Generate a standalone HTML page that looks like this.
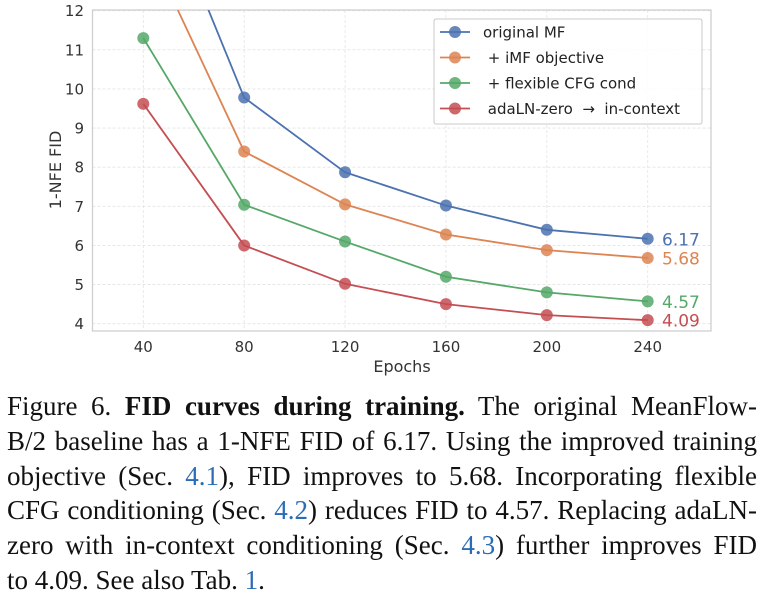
<!DOCTYPE html>
<html><head><meta charset="utf-8"><style>
body{margin:0;width:763px;height:595px;background:#fff;overflow:hidden;position:relative}
.cap{position:absolute;left:7px;width:750px;font-family:"Liberation Serif",serif;font-size:27px;color:#111;text-align:justify;text-align-last:justify;white-space:nowrap;line-height:30px}
.cap.last{text-align-last:left}
.ref{color:#2a6db5}
</style></head><body>
<svg id="chart" width="763" height="380" style="position:absolute;left:0;top:0" font-family="DejaVu Sans, Liberation Sans, sans-serif"></svg>
<div class="cap" style="top:391px">Figure 6. <b>FID curves during training.</b> The original MeanFlow-</div>
<div class="cap" style="top:425.8px">B/2 baseline has a 1-NFE FID of 6.17. Using the improved training</div>
<div class="cap" style="top:460.6px">objective (Sec. <span class="ref">4.1</span>), FID improves to 5.68. Incorporating flexible</div>
<div class="cap" style="top:495.4px">CFG conditioning (Sec. <span class="ref">4.2</span>) reduces FID to 4.57. Replacing adaLN-</div>
<div class="cap" style="top:530.2px">zero with in-context conditioning (Sec. <span class="ref">4.3</span>) further improves FID</div>
<div class="cap last" style="top:565px">to 4.09. See also Tab. <span class="ref">1</span>.</div>
<script>
const epochs=[40,80,120,160,200,240];
const blueVals=[16.1,9.78,7.87,7.02,6.40,6.17];
const orangeVals=[13.9,8.40,7.05,6.28,5.88,5.68];
const greenVals=[11.3,7.04,6.10,5.20,4.80,4.57];
const redVals=[9.62,6.00,5.02,4.50,4.22,4.09];
const seriesNames=["original MF"," + iMF objective"," + flexible CFG cond"," adaLN-zero  \u2192  in-context"];
const endLabels=["6.17","5.68","4.57","4.09"];
const xTicks=[40,80,120,160,200,240];
const yTicks=[4,5,6,7,8,9,10,11,12];
const colors=["#4c72b0","#dd8452","#55a868","#c44e52"];
const all=[blueVals,orangeVals,greenVals,redVals];
const NS="http://www.w3.org/2000/svg";
const svg=document.getElementById('chart');
const L=92.5,R=711,T=10,B=331;
const xs=v=>143.3+(v-40)*(647.7-143.3)/200;
const ys=v=>10.7+(12-v)*(323.7-10.7)/8;
function mk(tag,at,parent){const e=document.createElementNS(NS,tag);for(const k in at)e.setAttribute(k,at[k]);(parent||svg).appendChild(e);return e;}
const defs=mk('defs',{});const cp=mk('clipPath',{id:'cp'},defs);mk('rect',{x:L,y:T,width:R-L,height:B-T},cp);
xTicks.forEach(t=>{const g=mk('line',{x1:xs(t),x2:xs(t),y1:T,y2:B,stroke:'#e3e3e3','stroke-dasharray':'3,2','stroke-width':0.8});

const tx=mk('text',{x:xs(t),y:352,'text-anchor':'middle','font-size':15,fill:'#333'});tx.textContent=t;
});
yTicks.forEach(t=>{const g=mk('line',{x1:L,x2:R,y1:ys(t),y2:ys(t),stroke:'#e3e3e3','stroke-dasharray':'3,2','stroke-width':0.8});

const tx=mk('text',{x:84,y:ys(t)+5.5,'text-anchor':'end','font-size':15,fill:'#333'});tx.textContent=t;
});
const fr=mk('rect',{x:L,y:T,width:R-L,height:B-T,fill:'none',stroke:'#cfcfcf','stroke-width':1.3});

const xl=mk('text',{x:402,y:372,'text-anchor':'middle','font-size':16,fill:'#333'});xl.textContent='Epochs';

const yl=mk('text',{x:0,y:0,'text-anchor':'middle','font-size':16,fill:'#333',transform:'translate(61,170) rotate(-90)'});yl.textContent='1-NFE FID';

all.forEach((vals,i)=>{const g=mk('g',{'clip-path':'url(#cp)'});

const p=mk('polyline',{points:vals.map((v,j)=>xs(epochs[j])+','+ys(v)).join(' '),fill:'none',stroke:colors[i],'stroke-width':1.8},g);

vals.forEach((v,j)=>{const c=mk('circle',{cx:xs(epochs[j]),cy:ys(v),r:6,fill:colors[i],'fill-opacity':0.85},g);
});
const lb=mk('text',{x:662,y:ys(vals[5])+6.5,'font-size':17,fill:colors[i]});lb.textContent=endLabels[i];
});
const lg=mk('g',{});
mk('rect',{x:434,y:19,width:268,height:105,rx:2,fill:'#fff','fill-opacity':0.85,stroke:'#bbb','stroke-width':0.8},lg);
seriesNames.forEach((n,i)=>{const y=32+i*25.5;
const e=mk('g',{},lg);
mk('line',{x1:440,x2:470,y1:y,y2:y,stroke:colors[i],'stroke-width':1.8},e);
mk('circle',{cx:455,cy:y,r:6,fill:colors[i],'fill-opacity':0.85},e);
const t=mk('text',{x:483,y:y+5.5,'font-size':15,fill:'#222',style:'white-space:pre'},e);t.textContent=n;});
</script>
</body></html>
